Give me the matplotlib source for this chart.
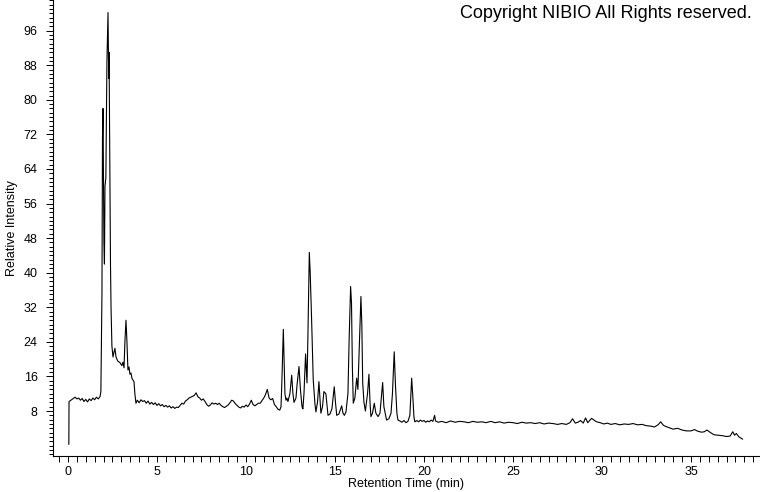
import numpy as np
import matplotlib
matplotlib.use("Agg")
import matplotlib.pyplot as plt
from matplotlib.ticker import MultipleLocator, FixedLocator

plt.rcParams['font.family'] = ['Liberation Sans', 'DejaVu Sans']

# chromatogram trace (time in min, relative intensity)
time_start = [0.05, 0.06, 0.1, 0.2, 0.3, 0.4, 0.5, 0.6, 0.7, 0.8, 0.9, 1.0, 1.1, 1.2,
              1.3, 1.4, 1.5, 1.6, 1.7, 1.8, 1.85]
int_start = [0.3, 10.2, 10.3, 10.6, 10.9, 11.2, 10.8, 11.0, 10.5, 10.9, 10.2, 10.7, 10.1, 10.8,
             10.4, 11.0, 10.6, 11.2, 10.8, 11.3, 12.5]

time_front = [1.91, 1.94, 1.97, 2.02, 2.05, 2.08, 2.13, 2.19, 2.25, 2.29, 2.31, 2.36, 2.39,
              2.42, 2.47, 2.53, 2.58, 2.64, 2.70, 2.75, 2.81, 2.92, 3.03, 3.09, 3.15, 3.20,
              3.26, 3.31, 3.37, 3.43, 3.48, 3.54, 3.60, 3.71, 3.76, 3.82]
int_front = [35, 71, 78, 47, 42, 60, 62, 89, 100.2, 85, 91, 62, 42,
             32, 23, 20.5, 21.5, 22.5, 20.5, 20, 19.5, 19.2, 18.5, 19.3, 18.0, 24,
             29, 24.5, 17.5, 18.2, 16.5, 16.8, 15.5, 14.8, 12, 9.8]

time_mid = [3.9, 4.0, 4.1, 4.2, 4.3, 4.4, 4.5, 4.6, 4.7, 4.8, 4.9, 5.0, 5.1, 5.2, 5.3, 5.4,
            5.5, 5.6, 5.7, 5.8, 5.9, 6.0, 6.1, 6.2, 6.3, 6.4, 6.5, 6.6, 6.7, 6.8, 6.9, 7.0,
            7.1, 7.2, 7.3, 7.4, 7.5, 7.6, 7.7, 7.8, 7.9, 8.0, 8.1, 8.2, 8.3, 8.4, 8.5, 8.6,
            8.7, 8.8, 8.9, 9.0, 9.1, 9.2, 9.3, 9.4, 9.5, 9.6, 9.7, 9.8, 9.9, 10.0, 10.1, 10.2,
            10.3, 10.4, 10.5, 10.6, 10.7, 10.8, 10.9, 11.0, 11.1, 11.2, 11.25, 11.3, 11.4,
            11.5, 11.6, 11.7, 11.8, 11.9]
int_mid = [10.5, 9.9, 10.6, 10.2, 10.4, 9.8, 10.3, 9.6, 10.0, 9.5, 9.9, 9.3, 9.7, 9.2, 9.5, 9.0,
           9.3, 8.9, 9.2, 8.7, 9.0, 8.6, 8.9, 8.8, 9.3, 9.8, 9.6, 10.3, 10.6, 11.0, 11.2, 11.4,
           11.6, 12.2, 11.3, 11.0, 10.5, 10.8, 10.2, 9.5, 9.1, 9.4, 9.9, 9.6, 9.8, 9.5, 9.8, 9.3,
           9.0, 8.8, 9.1, 9.4, 9.9, 10.5, 10.3, 9.7, 9.3, 8.9, 8.7, 9.1, 8.9, 9.4, 9.0, 9.6,
           10.5, 9.5, 9.2, 9.5, 9.8, 9.8, 10.4, 11.0, 11.8, 13.0, 12.0, 11.0, 10.6,
           10.9, 9.5, 9.0, 8.4, 8.2]

time_peaks = [11.97, 12.02, 12.10, 12.13, 12.19, 12.25, 12.30, 12.36, 12.47, 12.57, 12.64,
              12.70, 12.81, 12.87, 12.98, 13.06, 13.15, 13.20, 13.26, 13.35, 13.43, 13.48,
              13.56, 13.61, 13.69, 13.78, 13.88, 13.93, 14.02, 14.10, 14.16, 14.21, 14.30,
              14.38, 14.49, 14.61, 14.72, 14.83, 14.96, 15.03, 15.10, 15.22, 15.38, 15.45,
              15.53, 15.62, 15.73, 15.80, 15.88, 15.93, 15.98, 16.03, 16.12, 16.22, 16.29,
              16.38, 16.46, 16.51, 16.56, 16.63, 16.71, 16.83, 16.91, 16.97, 17.02, 17.11,
              17.21, 17.30, 17.42, 17.53, 17.68, 17.75, 17.90, 18.03, 18.15, 18.23, 18.33,
              18.40, 18.48, 18.54, 18.65, 18.76, 18.88, 18.99, 19.10, 19.21, 19.31, 19.38,
              19.44, 19.49]
int_peaks = [9.0, 15, 26.9, 22, 12, 10.5, 11.0, 10.2, 12, 16.3, 12,
             10.0, 11, 14, 18.3, 13, 9.0, 8.5, 12, 21.2, 14.5, 25,
             44.7, 40, 29, 15.2, 9.5, 7.8, 10, 14.8, 11, 7.5, 9,
             12.5, 12.0, 7.0, 7.3, 8.5, 13.6, 10, 7.0, 7.3, 9.2, 7.5,
             7.0, 7.8, 12, 25, 36.8, 33, 18, 9.8, 11, 15.6, 13,
             24, 34.5, 28, 14.5, 10, 8.0, 12, 16.5, 10, 6.7, 7.5,
             9.8, 7.5, 6.7, 7.5, 14.6, 9, 5.9, 6.2, 7.5, 12, 21.7,
             14, 7.5, 5.9, 5.7, 5.4, 5.8, 5.3, 5.6, 7, 15.6, 11,
             6.5, 5.5]

time_tail = [19.6, 19.7, 19.8, 19.9, 20.0, 20.1, 20.2, 20.3, 20.4, 20.5, 20.6, 20.65, 20.8,
             21.0, 21.25, 21.5, 21.75, 22.0, 22.25, 22.5, 22.75, 23.0, 23.25, 23.5, 23.75,
             24.0, 24.25, 24.5, 24.75, 25.0, 25.25, 25.5, 25.75, 26.0, 26.25, 26.5, 26.75,
             27.0, 27.25, 27.5, 27.75, 28.0, 28.2, 28.35, 28.5, 28.65, 28.8, 28.95, 29.08,
             29.2, 29.42, 29.55, 29.7, 29.9, 30.1, 30.3, 30.5, 30.75, 31.0, 31.25, 31.5,
             31.75, 32.0, 32.25, 32.5, 32.75, 32.95, 33.15, 33.3, 33.45, 33.6, 33.8, 34.0,
             34.25, 34.5, 34.75, 35.0, 35.2, 35.4, 35.6, 35.75, 35.9, 36.1, 36.3, 36.5,
             36.75, 37.0, 37.2, 37.35, 37.45, 37.55, 37.7, 37.9]
int_tail = [5.8, 5.5, 5.9, 5.6, 5.8, 5.4, 5.7, 5.5, 5.9, 5.6, 7.0, 5.7, 5.4,
            5.6, 5.3, 5.7, 5.4, 5.6, 5.5, 5.3, 5.6, 5.4, 5.5, 5.3, 5.6,
            5.3, 5.5, 5.2, 5.4, 5.3, 5.1, 5.4, 5.2, 5.3, 5.1, 5.3, 5.0,
            5.2, 5.1, 4.9, 5.1, 4.9, 5.3, 6.2, 5.2, 5.4, 5.8, 5.2, 6.4,
            5.3, 6.3, 5.9, 5.5, 5.3, 5.0, 5.2, 4.9, 5.1, 4.8, 5.0, 4.9,
            5.1, 4.8, 4.9, 4.6, 4.5, 4.3, 4.8, 5.5, 4.7, 4.4, 4.1, 3.8,
            4.0, 3.6, 3.4, 3.4, 3.7, 3.3, 3.1, 3.2, 3.6, 3.0, 2.5, 2.4,
            2.3, 2.1, 2.2, 3.2, 2.4, 2.8, 2.0, 1.5]

times = time_start + time_front + time_mid + time_peaks + time_tail
intensity = int_start + int_front + int_mid + int_peaks + int_tail

fig = plt.figure(figsize=(7.6, 4.92), dpi=100)
ax = fig.add_axes([53 / 760, 36 / 492, 707 / 760, 456 / 492])
ax.plot(times, intensity, color='black', linewidth=0.8)

ax.set_xlim(-0.84, 38.88)
ax.set_ylim(-2.41, 103.1)
ax.spines['top'].set_visible(False)
ax.spines['right'].set_visible(False)
ax.spines['left'].set_linewidth(0.8)
ax.spines['bottom'].set_linewidth(0.8)

ax.xaxis.set_major_locator(MultipleLocator(5))
ax.xaxis.set_minor_locator(MultipleLocator(0.5))
ax.yaxis.set_major_locator(FixedLocator(list(range(8, 100, 8))))
ax.yaxis.set_minor_locator(MultipleLocator(1))
ax.tick_params(axis='both', which='both', direction='out', width=0.7, labelsize=9)
ax.tick_params(axis='x', which='major', length=4, pad=3)
ax.tick_params(axis='x', which='minor', length=4)
ax.tick_params(axis='y', which='major', length=5, pad=6)
ax.tick_params(axis='y', which='minor', length=3)

ax.set_xlabel('Retention Time (min)', fontsize=9, labelpad=0)
ax.set_ylabel('Relative Intensity', fontsize=9, labelpad=4)

fig.text(752 / 760, 1 - 14 / 492, 'Copyright NIBIO All Rights reserved.',
         ha='right', va='center', fontsize=13)

fig.savefig('out.png', dpi=100)
